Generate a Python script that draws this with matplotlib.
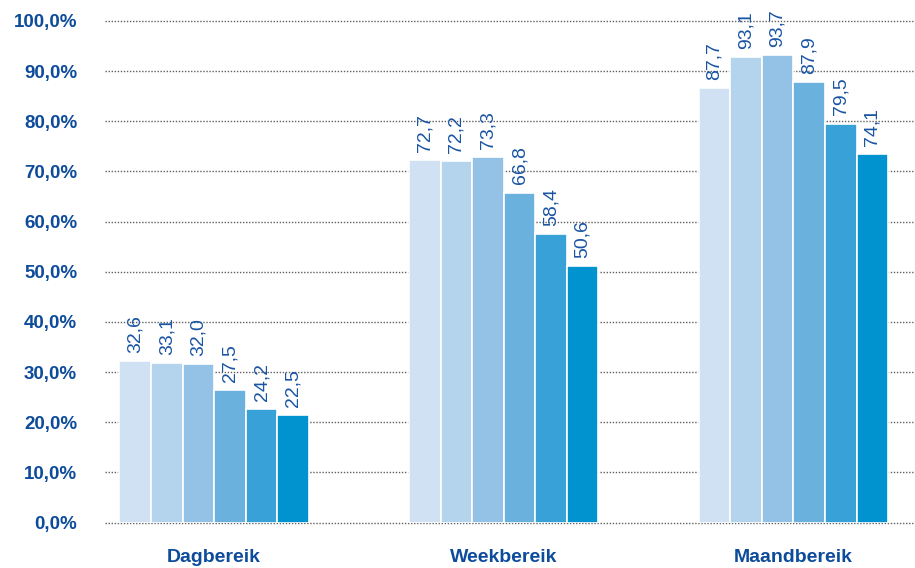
import matplotlib
matplotlib.use("Agg")
import matplotlib.pyplot as plt
import numpy as np

categories = ["Dagbereik", "Weekbereik", "Maandbereik"]
# bar heights (per series, per category)
bar_values = [
    [32.2, 72.3, 86.6],
    [31.8, 72.1, 92.8],
    [31.6, 72.9, 93.2],
    [26.4, 65.8, 87.8],
    [22.6, 57.5, 79.5],
    [21.4, 51.1, 73.5],
]
# printed data labels
label_values = [
    ["32,6", "72,7", "87,7"],
    ["33,1", "72,2", "93,1"],
    ["32,0", "73,3", "93,7"],
    ["27,5", "66,8", "87,9"],
    ["24,2", "58,4", "79,5"],
    ["22,5", "50,6", "74,1"],
]
colors = ["#cfe1f2", "#b4d4ee", "#94c2e6", "#6ab1dd", "#38a1d8", "#0093d0"]
yticks = [0, 10, 20, 30, 40, 50, 60, 70, 80, 90, 100]
ytick_labels = ["0,0%", "10,0%", "20,0%", "30,0%", "40,0%", "50,0%",
                "60,0%", "70,0%", "80,0%", "90,0%", "100,0%"]

text_blue = "#0d4b9b"
label_blue = "#1a55a3"

fig = plt.figure(figsize=(9.15, 5.68), dpi=100)
ax = fig.add_axes([105/915, 45.5/568, 1 - 105/915, (522.5-21)/568])

x = np.arange(len(categories))
n = len(bar_values)
w = 0.109
for i, (vals, labs) in enumerate(zip(bar_values, label_values)):
    pos = x + (i - (n - 1) / 2) * w
    ax.bar(pos, vals, width=w, color=colors[i], edgecolor="white",
           linewidth=1.2, zorder=3)
    for px, v, lab in zip(pos, vals, labs):
        ax.annotate(lab, (px, v), xytext=(0, 6), textcoords="offset points",
                    rotation=90, ha="center", va="bottom", fontsize=14,
                    color=label_blue, family="Liberation Sans",
                    annotation_clip=False, zorder=4)

ax.set_xlim(-0.377, 2.42)
ax.set_ylim(0, 100)
ax.set_yticks(yticks)
ax.set_yticklabels(ytick_labels, fontsize=13.5, fontweight="bold",
                   color=text_blue, family="Liberation Sans")
ax.set_xticks(x)
ax.set_xticklabels(categories, fontsize=14, fontweight="bold",
                   color=text_blue, family="Liberation Sans")
ax.tick_params(axis="y", length=0, pad=20)
ax.tick_params(axis="x", length=0, pad=19)
ax.yaxis.grid(True, linestyle=(0, (1, 1.2)), color="#606060",
              linewidth=1.0, zorder=0)
for gl in ax.get_ygridlines():
    gl.set_clip_on(False)
ax.set_axisbelow(True)
for s in ax.spines.values():
    s.set_visible(False)

fig.savefig("out.png", dpi=100)
